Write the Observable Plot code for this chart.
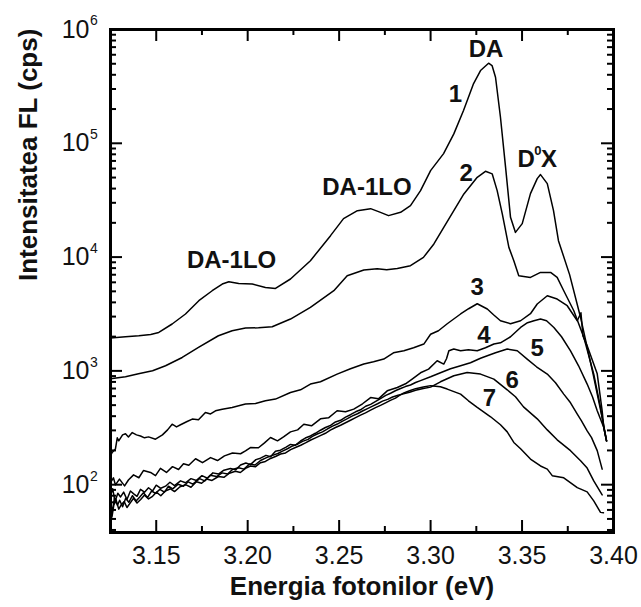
<!DOCTYPE html>
<html><head><meta charset="utf-8">
<script src="https://cdn.jsdelivr.net/npm/d3@7"></script>
<script src="https://cdn.jsdelivr.net/npm/@observablehq/plot@0.6"></script>
<style>
html,body{margin:0;padding:0;background:#fff;}
#chart{width:641px;height:607px;}
</style></head><body><div id="chart"></div>
<script>
// Photoluminescence spectra (energy eV, intensity cps)
const curve1 = [[3.1250,1942],[3.1332,1995],[3.1405,2035],[3.1470,2090],[3.1514,2176],[3.1587,2582],[3.1660,3162],[3.1733,4136],[3.1806,5063],[3.1861,5800],[3.1897,6076],[3.1951,5871],[3.2025,5800],[3.2097,5414],[3.2152,5305],[3.2234,6418],[3.2343,9297],[3.2453,15427],[3.2524,21762],[3.2600,25590],[3.2672,26650],[3.2726,24730],[3.2770,23130],[3.2836,24730],[3.2890,28320],[3.2945,38370],[3.3000,57540],[3.3071,81200],[3.3127,121000],[3.3180,193900],[3.3235,335000],[3.3273,436000],[3.3317,505300],[3.3336,482000],[3.3355,380600],[3.3382,169300],[3.3410,61510],[3.3437,22360],[3.3464,16480],[3.3501,19670],[3.3546,36100],[3.3583,48930],[3.3601,53100],[3.3638,44220],[3.3672,25590],[3.3699,13940],[3.3760,7015],[3.3820,2949],[3.3890,914],[3.3945,342],[3.3962,243]];
const curve2 = [[3.1250,852],[3.1332,887],[3.1403,943],[3.1480,1002],[3.1551,1109],[3.1642,1312],[3.1731,1606],[3.1840,2036],[3.1915,2253],[3.1988,2379],[3.2059,2392],[3.2134,2443],[3.2234,2855],[3.2343,3610],[3.2471,5063],[3.2544,6862],[3.2635,7700],[3.2708,7900],[3.2760,7750],[3.2818,7950],[3.2890,8403],[3.2961,9940],[3.3018,13040],[3.3072,18250],[3.3127,25590],[3.3182,35890],[3.3255,50240],[3.3300,56720],[3.3337,53820],[3.3364,38370],[3.3392,23940],[3.3428,12170],[3.3455,9297],[3.3482,6862],[3.3546,6630],[3.3601,7335],[3.3656,7335],[3.3692,6630],[3.3728,5063],[3.3783,3378],[3.3838,1966],[3.3892,937],[3.3929,477],[3.3947,318],[3.3962,243]];
const curve3 = [[3.1250,179],[3.1259,192],[3.1277,206],[3.1287,258],[3.1295,243],[3.1316,274],[3.1332,280],[3.1348,263],[3.1369,287],[3.1392,274],[3.1414,268],[3.1436,258],[3.1458,263],[3.1496,251],[3.1534,274],[3.1562,303],[3.1587,340],[3.1611,322],[3.1633,336],[3.1666,357],[3.1697,377],[3.1731,372],[3.1769,431],[3.1797,418],[3.1824,446],[3.1861,461],[3.1915,477],[3.1951,493],[3.1988,511],[3.2043,516],[3.2097,546],[3.2152,565],[3.2234,646],[3.2289,682],[3.2343,766],[3.2398,802],[3.2489,937],[3.2562,1043],[3.2635,1148],[3.2688,1202],[3.2744,1270],[3.2797,1443],[3.2854,1502],[3.2907,1597],[3.2963,1721],[3.3000,2100],[3.3043,2253],[3.3091,2596],[3.3164,3162],[3.3208,3517],[3.3255,3892],[3.3310,3496],[3.3344,3114],[3.3382,2758],[3.3437,2596],[3.3492,2758],[3.3546,3181],[3.3583,3868],[3.3638,4576],[3.3692,4280],[3.3747,3737],[3.3802,2758],[3.3822,3243],[3.3833,2032],[3.3856,1660],[3.3911,943],[3.3938,445],[3.3947,318],[3.3962,243]];
const curve4 = [[3.1250,104],[3.1266,115],[3.1277,99.6],[3.1299,112],[3.1327,97.6],[3.1348,110],[3.1376,122],[3.1405,115],[3.1430,133],[3.1469,128],[3.1496,120],[3.1523,139],[3.1556,128],[3.1589,144],[3.1622,136],[3.1649,153],[3.1678,148],[3.1715,169],[3.1753,156],[3.1797,173],[3.1835,163],[3.1873,179],[3.1917,190],[3.1961,187],[3.1988,198],[3.2015,212],[3.2059,211],[3.2092,233],[3.2125,260],[3.2163,243],[3.2196,263],[3.2234,291],[3.2273,303],[3.2307,340],[3.2349,329],[3.2398,379],[3.2442,387],[3.2489,446],[3.2535,437],[3.2580,461],[3.2628,514],[3.2672,583],[3.2715,568],[3.2763,668],[3.2818,715],[3.2863,770],[3.2901,852],[3.2945,962],[3.2989,1037],[3.3036,1227],[3.3072,1148],[3.3087,1278],[3.3100,1502],[3.3127,1555],[3.3164,1502],[3.3207,1533],[3.3255,1502],[3.3300,1597],[3.3346,1721],[3.3382,1766],[3.3437,1995],[3.3492,2408],[3.3530,2649],[3.3565,2758],[3.3601,2855],[3.3634,2758],[3.3674,2408],[3.3716,1995],[3.3765,1502],[3.3809,1109],[3.3856,766],[3.3885,592],[3.3911,446],[3.3947,318],[3.3962,243]];
const curve5 = [[3.1250,80],[3.1262,92],[3.1275,71],[3.1290,84],[3.1305,78],[3.1322,86],[3.1340,74],[3.1359,88],[3.1377,83],[3.1395,79],[3.1414,91],[3.1436,86],[3.1458,94],[3.1480,88],[3.1500,99],[3.1525,93],[3.1551,97],[3.1575,105],[3.1600,98],[3.1633,108],[3.1660,104],[3.1690,113],[3.1720,109],[3.1750,120],[3.1780,114],[3.1810,127],[3.1840,124],[3.1870,134],[3.1906,139],[3.1935,135],[3.1961,149],[3.1990,155],[3.2015,150],[3.2045,166],[3.2070,171],[3.2100,181],[3.2125,176],[3.2152,197],[3.2179,201],[3.2210,214],[3.2234,226],[3.2260,222],[3.2289,242],[3.2315,257],[3.2343,268],[3.2370,283],[3.2398,301],[3.2425,318],[3.2453,332],[3.2480,356],[3.2508,368],[3.2535,392],[3.2562,412],[3.2590,437],[3.2617,455],[3.2645,489],[3.2672,508],[3.2700,540],[3.2726,571],[3.2755,609],[3.2781,636],[3.2810,672],[3.2836,701],[3.2862,728],[3.2890,752],[3.2918,790],[3.2945,822],[3.3000,887],[3.3054,962],[3.3109,1043],[3.3164,1109],[3.3218,1178],[3.3273,1290],[3.3310,1357],[3.3355,1443],[3.3419,1555],[3.3474,1502],[3.3528,1270],[3.3579,1087],[3.3638,937],[3.3683,786],[3.3728,625],[3.3765,524],[3.3802,417],[3.3825,364],[3.3856,297],[3.3880,259],[3.3911,199],[3.3938,137]];
const curve6 = [[3.1250,69],[3.1260,58],[3.1272,77],[3.1288,66],[3.1300,73],[3.1316,64],[3.1333,76],[3.1350,70],[3.1370,80],[3.1390,72],[3.1410,78],[3.1430,85],[3.1452,77],[3.1475,88],[3.1496,84],[3.1520,91],[3.1545,86],[3.1567,97],[3.1590,92],[3.1620,101],[3.1649,97],[3.1675,106],[3.1700,101],[3.1737,113],[3.1765,108],[3.1795,121],[3.1830,118],[3.1860,127],[3.1890,124],[3.1917,136],[3.1950,141],[3.1980,137],[3.2010,152],[3.2040,149],[3.2070,163],[3.2100,172],[3.2136,181],[3.2165,188],[3.2190,197],[3.2220,208],[3.2245,219],[3.2275,228],[3.2300,240],[3.2330,250],[3.2354,266],[3.2380,279],[3.2409,291],[3.2437,310],[3.2464,327],[3.2490,341],[3.2519,362],[3.2545,380],[3.2573,402],[3.2600,420],[3.2628,444],[3.2655,466],[3.2683,490],[3.2710,514],[3.2737,542],[3.2765,562],[3.2792,590],[3.2822,610],[3.2852,628],[3.2885,650],[3.2918,676],[3.2960,700],[3.3000,720],[3.3054,802],[3.3127,906],[3.3200,968],[3.3273,937],[3.3346,847],[3.3419,682],[3.3464,592],[3.3508,483],[3.3583,379],[3.3638,303],[3.3692,248],[3.3765,199],[3.3820,162],[3.3856,140],[3.3892,108],[3.3938,81.4]];
const curve7 = [[3.1250,63],[3.1258,52],[3.1268,66],[3.1280,74],[3.1295,61],[3.1310,67],[3.1325,71],[3.1340,63],[3.1360,70],[3.1376,76],[3.1395,69],[3.1415,74],[3.1436,81],[3.1458,75],[3.1480,79],[3.1501,86],[3.1525,80],[3.1550,88],[3.1578,92],[3.1600,87],[3.1630,96],[3.1660,100],[3.1690,95],[3.1720,106],[3.1748,103],[3.1775,112],[3.1805,109],[3.1840,118],[3.1870,116],[3.1900,126],[3.1933,131],[3.1960,128],[3.1988,139],[3.2015,146],[3.2043,144],[3.2070,156],[3.2097,160],[3.2125,170],[3.2152,177],[3.2180,186],[3.2207,190],[3.2235,203],[3.2261,212],[3.2290,222],[3.2316,233],[3.2345,247],[3.2371,258],[3.2400,271],[3.2425,283],[3.2452,302],[3.2480,318],[3.2508,333],[3.2535,350],[3.2562,368],[3.2590,388],[3.2617,408],[3.2644,428],[3.2672,452],[3.2699,476],[3.2726,498],[3.2754,524],[3.2780,550],[3.2808,576],[3.2830,610],[3.2854,640],[3.2885,668],[3.2918,698],[3.2960,722],[3.3000,742],[3.3054,725],[3.3091,692],[3.3164,625],[3.3207,546],[3.3255,477],[3.3328,395],[3.3382,336],[3.3419,291],[3.3455,235],[3.3492,207],[3.3546,168],[3.3601,146],[3.3638,137],[3.3665,120],[3.3728,115],[3.3802,94.3],[3.3856,86.5],[3.3892,72.0],[3.3929,57.1],[3.3945,56.6]];
const curves = [curve1, curve2, curve3, curve4, curve5, curve6, curve7];

// Axis ticks
const xMajor = [3.15, 3.20, 3.25, 3.30, 3.35, 3.40];
const xMinor = [3.175, 3.225, 3.275, 3.325, 3.375];
const yMajor = [1e2, 1e3, 1e4, 1e5, 1e6];
const yMinor = [1, 2, 3, 4, 5].flatMap(k => [2,3,4,5,6,7,8,9].map(m => m * 10 ** k)).filter(v => v > 38 && v < 1e6);

// Annotations
const labelText = ["DA", "1", "2", "DA-1LO", "DA-1LO", "3", "4", "5", "6", "7"];
const labelE = [3.3303, 3.3136, 3.3194, 3.2652, 3.1912, 3.3255, 3.3291, 3.3583, 3.3446, 3.3322];
const labelI = [674000, 268500, 54800, 41300, 9330, 5440, 2034, 1564, 823, 578];
const doxE = 3.3576, doxI = 72050;

const xTitle = "Energia fotonilor (eV)";
const yTitle = "Intensitatea FL (cps)";

const rows = curves.flatMap((c, k) => c.map(([e, v]) => ({e, v, s: k + 1})));
const labels = labelText.map((t, i) => ({t, e: labelE[i], v: labelI[i]}));

const W = 641 - 110 - 28, H = 607 - 29 - 75;
const major = 12, minor = 6;
const black = "#000";

const plot = Plot.plot({
  width: 641, height: 607,
  marginTop: 29, marginBottom: 75, marginLeft: 110, marginRight: 28,
  style: {fontFamily: "'Liberation Sans', Arial, sans-serif", background: "#fff", color: "#000", overflow: "visible"},
  x: {domain: [3.125, 3.40], axis: null},
  y: {type: "log", domain: [38, 1e6], axis: null},
  marks: [
    Plot.line(rows, {x: "e", y: "v", z: "s", stroke: black, strokeWidth: 1.5, strokeLinejoin: "round"}),
    // inward ticks
    Plot.tickY(yMajor, {y: d => d, insetRight: W - major, stroke: black, strokeWidth: 2}),
    Plot.tickY(yMajor, {y: d => d, insetLeft: W - major, stroke: black, strokeWidth: 2}),
    Plot.tickY(yMinor, {y: d => d, insetRight: W - minor, stroke: black, strokeWidth: 2}),
    Plot.tickY(yMinor, {y: d => d, insetLeft: W - minor, stroke: black, strokeWidth: 2}),
    Plot.tickX(xMajor, {x: d => d, insetTop: H - major, stroke: black, strokeWidth: 2}),
    Plot.tickX(xMajor, {x: d => d, insetBottom: H - major, stroke: black, strokeWidth: 2}),
    Plot.tickX(xMinor, {x: d => d, insetTop: H - minor, stroke: black, strokeWidth: 2}),
    Plot.tickX(xMinor, {x: d => d, insetBottom: H - minor, stroke: black, strokeWidth: 2}),
    Plot.frame({stroke: black, strokeWidth: 3}),
    // tick labels
    Plot.axisX({ticks: xMajor, tickSize: 0, tickPadding: 14, tickFormat: d3.format(".2f"), fontSize: 25, label: null, fill: "#111"}),
    Plot.axisY({ticks: yMajor, tickSize: 0, tickPadding: 21, tickFormat: () => "10", fontSize: 25, label: null, fill: "#111"}),
    Plot.text(yMajor, {y: d => d, frameAnchor: "left", text: d => String(Math.round(Math.log10(d))), dx: -20.5, dy: -8.5, textAnchor: "start", fontSize: 14, fill: "#111"}),
    // axis titles
    Plot.text([xTitle], {frameAnchor: "bottom", text: d => d, dy: 62, fontSize: 26, fontWeight: "bold", fill: "#111"}),
    Plot.text([yTitle], {frameAnchor: "left", text: d => d, rotate: -90, dx: -82, fontSize: 26, fontWeight: "bold", fill: "#111"}),
    // annotations
    Plot.text(labels, {x: "e", y: "v", text: "t", fontSize: 24, fontWeight: "bold", fill: "#111"}),
    Plot.text(["D"], {x: () => doxE, y: () => doxI, text: d => d, textAnchor: "end", dx: -1, fontSize: 24, fontWeight: "bold", fill: "#111"}),
    Plot.text(["0"], {x: () => doxE, y: () => doxI, text: d => d, textAnchor: "middle", dx: 2, dy: -9, fontSize: 13, fontWeight: "bold", fill: "#111"}),
    Plot.text(["X"], {x: () => doxE, y: () => doxI, text: d => d, textAnchor: "start", dx: 5, fontSize: 24, fontWeight: "bold", fill: "#111"})
  ]
});
document.getElementById("chart").append(plot);
</script>
</body></html>
